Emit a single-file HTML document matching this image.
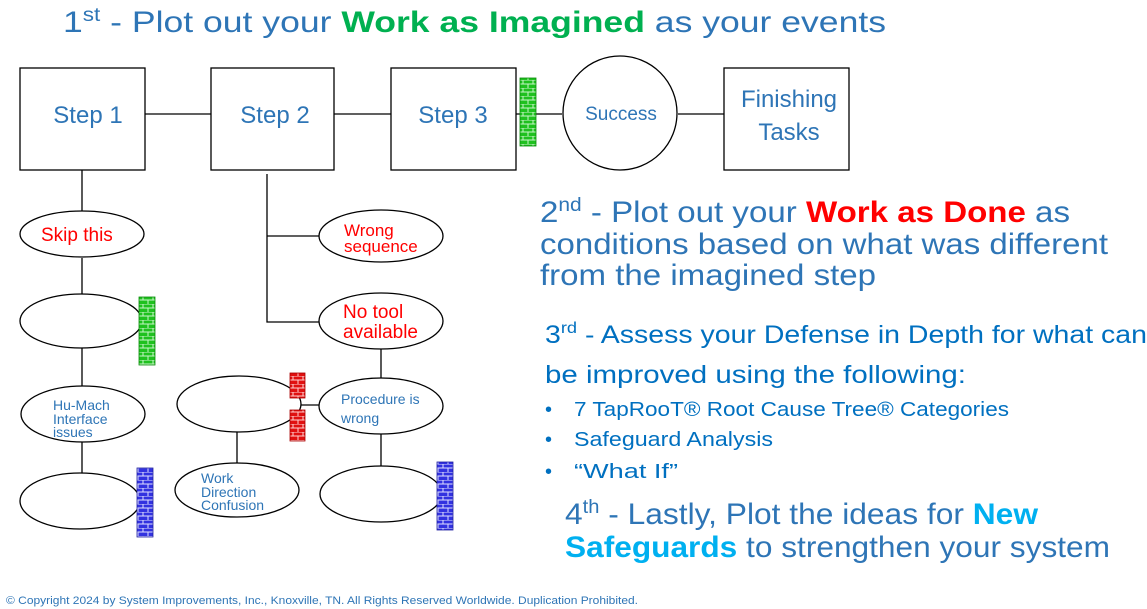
<!DOCTYPE html>
<html><head><meta charset="utf-8"><style>
html,body{margin:0;padding:0;background:#fff;width:1147px;height:609px;overflow:hidden}
svg{display:block}
text{font-family:"Liberation Sans",sans-serif}
</style></head><body>
<svg width="1147" height="609" viewBox="0 0 1147 609" xmlns="http://www.w3.org/2000/svg">
<defs>
<pattern id="bg" width="10" height="8" patternUnits="userSpaceOnUse">
<rect width="10" height="8" fill="#1fc11f"/><path d="M0 0H10M0 4H10M3 0V4M8 4V8" stroke="#c8f5c8" stroke-width="1" fill="none"/></pattern>
<pattern id="bb" width="10" height="8" patternUnits="userSpaceOnUse">
<rect width="10" height="8" fill="#3232e0"/><path d="M0 0H10M0 4H10M3 0V4M8 4V8" stroke="#e0e0ff" stroke-width="1" fill="none"/></pattern>
<pattern id="br" width="10" height="8" patternUnits="userSpaceOnUse">
<rect width="10" height="8" fill="#e01010"/><path d="M0 0H10M0 4H10M3 0V4M8 4V8" stroke="#ffd0d0" stroke-width="1" fill="none"/></pattern>
</defs>

<text x="63" y="32" font-size="30" fill="#2e75b6" textLength="823" lengthAdjust="spacingAndGlyphs">1<tspan font-size="19" dy="-11">st</tspan><tspan dy="11"> - Plot out your </tspan><tspan fill="#00b050" font-weight="bold">Work as Imagined</tspan> as your events</text>

<g stroke="#000" stroke-width="1.3" fill="none">
<path d="M145 114H211M334 114H391M516 114H562M678 114H724"/>
<path d="M82 170V211M82 258V295M82 348V386M82 442V473"/>
<path d="M267 174V322H320M267 236H320M381 349V378M381 434V466M300 405H320M237 432V463"/>
<rect x="20" y="68" width="125" height="102" fill="#fff"/>
<rect x="211" y="68" width="123" height="102" fill="#fff"/>
<rect x="391" y="68" width="125" height="102" fill="#fff"/>
<rect x="724" y="68" width="125" height="102" fill="#fff"/>
<circle cx="620" cy="113" r="57" fill="#fff"/>
<ellipse cx="82" cy="234" rx="62" ry="23" fill="#fff"/>
<ellipse cx="81" cy="321" rx="61" ry="27" fill="#fff"/>
<ellipse cx="83" cy="414" rx="62" ry="28" fill="#fff"/>
<ellipse cx="80" cy="501" rx="60" ry="28" fill="#fff"/>
<ellipse cx="381" cy="236" rx="62" ry="26" fill="#fff"/>
<ellipse cx="381" cy="321" rx="62" ry="28" fill="#fff"/>
<ellipse cx="381" cy="406" rx="62" ry="28" fill="#fff"/>
<ellipse cx="381" cy="494" rx="61" ry="28" fill="#fff"/>
<ellipse cx="239" cy="404" rx="62" ry="28" fill="#fff"/>
<ellipse cx="237" cy="490" rx="62" ry="27" fill="#fff"/>
</g>
<rect x="520" y="78" width="16" height="68" fill="url(#bg)" stroke="#0a8a0a" stroke-width="0.8"/>
<rect x="139" y="297" width="16" height="68" fill="url(#bg)" stroke="#0a8a0a" stroke-width="0.8"/>
<rect x="137" y="468" width="16" height="69" fill="url(#bb)" stroke="#2020a0" stroke-width="0.8"/>
<rect x="437" y="462" width="16" height="68" fill="url(#bb)" stroke="#2020a0" stroke-width="0.8"/>
<rect x="290" y="373" width="15" height="25" fill="url(#br)" stroke="#a00" stroke-width="0.8"/>
<rect x="290" y="410" width="15" height="31" fill="url(#br)" stroke="#a00" stroke-width="0.8"/>

<g fill="#2e75b6" font-size="24" text-anchor="middle">
<text x="88" y="123">Step 1</text>
<text x="275" y="123">Step 2</text>
<text x="453" y="123">Step 3</text>
<text x="789" y="107">Finishing</text>
<text x="789" y="140">Tasks</text>
<text x="621" y="120" font-size="19">Success</text>
</g>
<g fill="#ff0000" font-size="19">
<text x="41" y="241">Skip this</text>
<text x="344" y="236" font-size="17">Wrong</text>
<text x="344" y="252" font-size="17">sequence</text>
<text x="343" y="318">No tool</text>
<text x="343" y="338">available</text>
</g>
<g fill="#2e75b6" font-size="14">
<text x="53" y="410">Hu-Mach</text>
<text x="53" y="424">Interface</text>
<text x="53" y="437">issues</text>
<text x="341" y="404">Procedure is</text>
<text x="341" y="423">wrong</text>
<text x="201" y="483">Work</text>
<text x="201" y="497">Direction</text>
<text x="201" y="510">Confusion</text>
</g>

<g fill="#2e75b6" font-size="30">
<text x="540" y="222" textLength="530" lengthAdjust="spacingAndGlyphs">2<tspan font-size="19" dy="-11">nd</tspan><tspan dy="11"> - Plot out your </tspan><tspan fill="#ff0000" font-weight="bold">Work as Done</tspan> as</text>
<text x="540" y="254" textLength="568" lengthAdjust="spacingAndGlyphs">conditions based on what was different</text>
<text x="540" y="285" textLength="336" lengthAdjust="spacingAndGlyphs">from the imagined step</text>
<text x="565" y="524" textLength="473" lengthAdjust="spacingAndGlyphs">4<tspan font-size="19" dy="-11">th</tspan><tspan dy="11"> - Lastly, Plot the ideas for </tspan><tspan fill="#00b0f0" font-weight="bold">New</tspan></text>
<text x="565" y="557" textLength="545" lengthAdjust="spacingAndGlyphs"><tspan fill="#00b0f0" font-weight="bold">Safeguards</tspan> to strengthen your system</text>
</g>
<g fill="#0070c0">
<text x="545" y="343" font-size="25" textLength="602" lengthAdjust="spacingAndGlyphs">3<tspan font-size="16" dy="-10">rd</tspan><tspan dy="10"> - Assess your Defense in Depth for what can</tspan></text>
<text x="545" y="383" font-size="25" textLength="421" lengthAdjust="spacingAndGlyphs">be improved using the following:</text>
<g font-size="20">
<text x="545" y="416">•</text><text x="574" y="416" textLength="435" lengthAdjust="spacingAndGlyphs">7 TapRooT® Root Cause Tree® Categories</text>
<text x="545" y="446">•</text><text x="574" y="446" textLength="199" lengthAdjust="spacingAndGlyphs">Safeguard Analysis</text>
<text x="545" y="478">•</text><text x="574" y="478" textLength="104" lengthAdjust="spacingAndGlyphs">“What If”</text>
</g>
</g>
<text x="6" y="604" font-size="11" fill="#2e75b6" textLength="632" lengthAdjust="spacingAndGlyphs">© Copyright 2024 by System Improvements, Inc., Knoxville, TN.  All Rights Reserved Worldwide.  Duplication Prohibited.</text>
</svg>
</body></html>
